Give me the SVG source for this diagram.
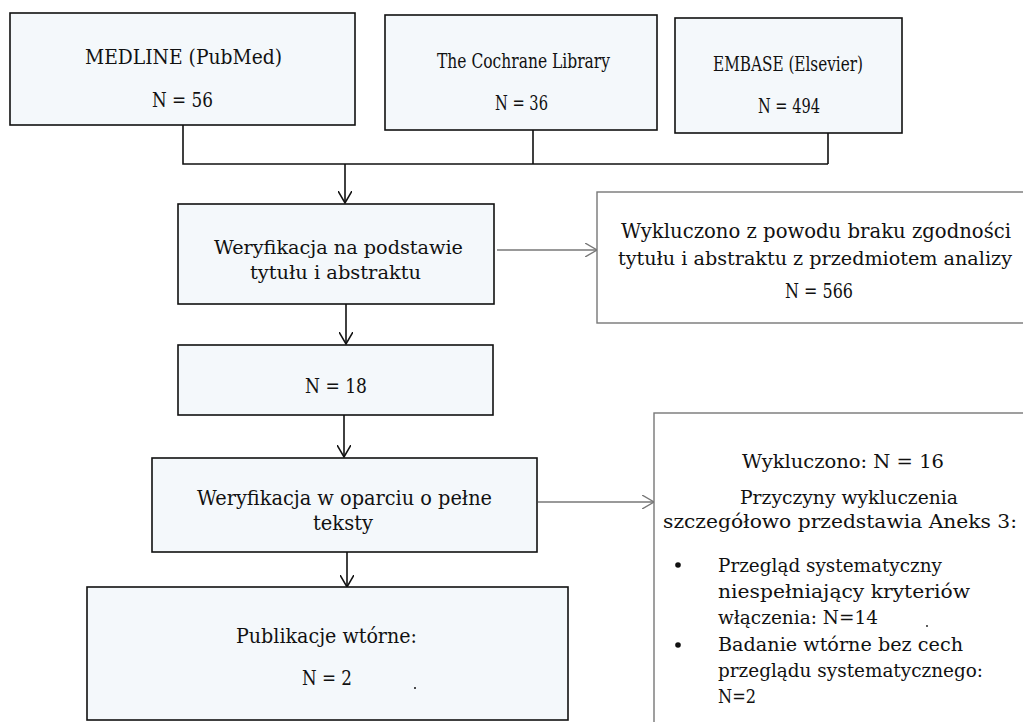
<svg xmlns="http://www.w3.org/2000/svg" width="1023" height="722" viewBox="0 0 1023 722">
<style>
.box{fill:#f4f8fb;stroke:#111;stroke-width:1.6}
.ex{fill:#fff;stroke:#777;stroke-width:1.4}
text{font-family:"DejaVu Serif","Liberation Serif",serif;font-size:19px;fill:#111}
.c{text-anchor:middle}
.t21{font-size:21px}
.t20{font-size:20px}
.ln{fill:none;stroke:#111;stroke-width:1.6}
.gl{fill:none;stroke:#777;stroke-width:1.4}
</style>
<defs>
<marker id="ab" markerWidth="14" markerHeight="14" refX="12" refY="7" orient="auto" markerUnits="userSpaceOnUse">
<path d="M0,0 L12,7 L0,14" fill="none" stroke="#111" stroke-width="1.6"/>
</marker>
<marker id="ag" markerWidth="14" markerHeight="14" refX="12" refY="7" orient="auto" markerUnits="userSpaceOnUse">
<path d="M0,0 L12,7 L0,14" fill="none" stroke="#777" stroke-width="1.4"/>
</marker>
</defs>
<rect width="1023" height="722" fill="#fff"/>
<g id="connectors">
<path class="ln" d="M183,125 V164 H828 M533,130 V164 M828,133 V164"/>
<path class="ln" d="M345,164 V203" marker-end="url(#ab)"/>
<path class="ln" d="M346,304 V344" marker-end="url(#ab)"/>
<path class="ln" d="M344,415 V457" marker-end="url(#ab)"/>
<path class="ln" d="M347,552 V587" marker-end="url(#ab)"/>
<path class="gl" d="M497,250 H597" marker-end="url(#ag)"/>
<path class="gl" d="M538,502 H654" marker-end="url(#ag)"/>
</g>
<g id="medline">
<rect class="box" x="10" y="13" width="345" height="112"/>
<text class="c t21" x="183.5" y="64" textLength="197" lengthAdjust="spacingAndGlyphs">MEDLINE (PubMed)</text>
<text class="c t21" x="182.5" y="107" textLength="61" lengthAdjust="spacingAndGlyphs">N = 56</text>
</g>
<g id="cochrane">
<rect class="box" x="385" y="15" width="272" height="115"/>
<text class="c t21" x="523.5" y="68" textLength="173" lengthAdjust="spacingAndGlyphs">The Cochrane Library</text>
<text class="c t21" x="521.5" y="110" textLength="53" lengthAdjust="spacingAndGlyphs">N = 36</text>
</g>
<g id="embase">
<rect class="box" x="675" y="18" width="227" height="115"/>
<text class="c t21" x="788" y="71" textLength="150" lengthAdjust="spacingAndGlyphs">EMBASE (Elsevier)</text>
<text class="c t21" x="789" y="113" textLength="62" lengthAdjust="spacingAndGlyphs">N = 494</text>
</g>
<g id="screen1">
<rect class="box" x="178" y="204" width="316" height="100"/>
<text class="c" x="338.5" y="254" textLength="249" lengthAdjust="spacingAndGlyphs">Weryfikacja na podstawie</text>
<text class="c" x="335.5" y="279" textLength="171" lengthAdjust="spacingAndGlyphs">tytułu i abstraktu</text>
</g>
<g id="excl1">
<rect class="ex" x="597" y="192" width="440" height="131"/>
<text class="c t20" x="816" y="238" textLength="390" lengthAdjust="spacingAndGlyphs">Wykluczono z powodu braku zgodności</text>
<text class="c" x="815" y="265" textLength="394" lengthAdjust="spacingAndGlyphs">tytułu i abstraktu z przedmiotem analizy</text>
<text class="c t20" x="819" y="298" textLength="68" lengthAdjust="spacingAndGlyphs">N = 566</text>
</g>
<g id="n18">
<rect class="box" x="178" y="345" width="315" height="70"/>
<text class="c t20" x="336" y="393" textLength="62" lengthAdjust="spacingAndGlyphs">N = 18</text>
</g>
<g id="screen2">
<rect class="box" x="152" y="458" width="385" height="94"/>
<text class="c t20" x="344.5" y="505" textLength="295" lengthAdjust="spacingAndGlyphs">Weryfikacja w oparciu o pełne</text>
<text class="c t20" x="343" y="530" textLength="60" lengthAdjust="spacingAndGlyphs">teksty</text>
</g>
<g id="excl2">
<rect class="ex" x="654" y="413" width="400" height="330"/>
<text class="c" x="843" y="468" textLength="202" lengthAdjust="spacingAndGlyphs">Wykluczono: N = 16</text>
<text class="c" x="849" y="504" textLength="218" lengthAdjust="spacingAndGlyphs">Przyczyny wykluczenia</text>
<text class="c" x="840" y="528" textLength="354" lengthAdjust="spacingAndGlyphs">szczegółowo przedstawia Aneks 3:</text>
<circle cx="678" cy="565" r="2.8" fill="#111"/>
<text x="718" y="572" textLength="224" lengthAdjust="spacingAndGlyphs">Przegląd systematyczny</text>
<text x="718" y="598" textLength="252" lengthAdjust="spacingAndGlyphs">niespełniający kryteriów</text>
<text x="718" y="624" textLength="160" lengthAdjust="spacingAndGlyphs">włączenia: N=14</text>
<circle cx="927" cy="626" r="0.9" fill="#111"/>
<circle cx="678" cy="645" r="2.8" fill="#111"/>
<text x="718" y="651" textLength="245" lengthAdjust="spacingAndGlyphs">Badanie wtórne bez cech</text>
<text x="718" y="677" textLength="265" lengthAdjust="spacingAndGlyphs">przeglądu systematycznego:</text>
<text x="718" y="703" textLength="38" lengthAdjust="spacingAndGlyphs">N=2</text>
</g>
<g id="secondary">
<rect class="box" x="87" y="587" width="481" height="133"/>
<text class="c t20" x="326.5" y="643" textLength="181" lengthAdjust="spacingAndGlyphs">Publikacje wtórne:</text>
<text class="c t20" x="327" y="685" textLength="50" lengthAdjust="spacingAndGlyphs">N = 2</text>
<circle cx="415" cy="688" r="1" fill="#111"/>
</g>
</svg>
